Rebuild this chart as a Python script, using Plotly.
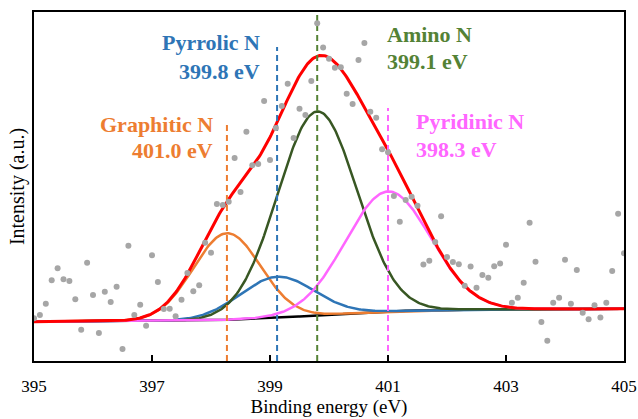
import math
import numpy as np
import plotly.graph_objects as go

# ---- measured spectrum (0.1 eV steps from 395.0 to 405.0) ----
energy_start = 395.0
energy_step = 0.1
intensity = [
    42.7, 46.0, 57.3, 80.7, 92.7, 81.7, 80.0, 61.7, 31.3, 98.3,
    66.0, 28.0, 69.3, 59.0, 74.3, 12.0, 115.3, 46.0, 56.3, 35.3,
    105.7, 79.0, 52.0, 52.3, 44.7, 61.3, 88.0, 69.7, 75.7, 118.3,
    108.3, 157.0, 156.0, 159.3, 203.0, 169.0, 229.3, 195.7, 197.0, 260.0,
    201.0, 233.0, 255.0, 277.3, 223.0, 252.3, 246.0, 280.0, 337.7, 313.5,
    302.3, 293.3, 293.7, 267.3, 257.0, 301.0, 318.0, 249.3, 243.3, 211.7,
    208.7, 165.0, 139.3, 161.0, 164.3, 155.3, 96.5, 100.3, 119.0, 144.7,
    104.0, 99.0, 96.7, 75.3, 94.5, 73.3, 86.0, 83.3, 94.7, 97.5,
    116.3, 58.2, 63.3, 78.2, 138.3, 99.3, 39.0, 20.3, 58.2, 63.3,
    101.2, 57.3, 91.0, 48.2, 41.7, 55.7, 43.5, 58.2, 90.0, 147.3,
    107.7,
]
energy = [round(energy_start + energy_step * i, 1) for i in range(len(intensity))]

# ---- fitted components (Gaussian parameters) ----
peak_names = ["Graphitic N", "Pyrrolic N", "Amino N", "Pyridinic N"]
peak_labels = ["401.0 eV", "399.8 eV", "399.1 eV", "398.3 eV"]
peak_centers = [398.27, 399.12, 399.80, 401.00]
peak_heights = [86.5, 41.0, 204.0, 120.0]
peak_sigmas = [0.57, 0.63, 0.67, 0.72]
peak_colors = ["#ED7D31", "#2E75B6", "#385723", "#FF66FF"]
text_colors = ["#ED7D31", "#2E75B6", "#548235", "#FF66FF"]
dash_colors = ["#ED7D31", "#2E75B6", "#548235", "#FF66FF"]
dash_tops = [236.0, 314.0, 349.0, 253.0]

# Shirley-like background parameters
bg_left = 39.3
bg_slope = 0.3
bg_step = 10.0

E = np.linspace(395, 405, 501)
erf = np.vectorize(math.erf)
areas = [h * s for h, s in zip(peak_heights, peak_sigmas)]
cum = sum(a * 0.5 * (1 + erf((E - c) / (s * math.sqrt(2))))
          for a, c, s in zip(areas, peak_centers, peak_sigmas)) / sum(areas)
background = bg_left + bg_slope * (E - 395) + bg_step * cum
comps = [h * np.exp(-(E - c) ** 2 / (2 * s ** 2))
         for h, c, s in zip(peak_heights, peak_centers, peak_sigmas)]
envelope = background + sum(comps)

fig = go.Figure()
fig.add_trace(go.Scatter(x=E, y=background, mode="lines",
                         line=dict(color="black", width=2.5), showlegend=False))
for comp, col in zip(comps, peak_colors):
    fig.add_trace(go.Scatter(x=E, y=background + comp, mode="lines",
                             line=dict(color=col, width=2.5), showlegend=False))
fig.add_trace(go.Scatter(x=E, y=envelope, mode="lines",
                         line=dict(color="#FF0000", width=3), showlegend=False))
for c, top, col in zip(peak_centers, dash_tops, dash_colors):
    fig.add_trace(go.Scatter(x=[c, c], y=[0, top], mode="lines",
                             line=dict(color=col, width=2, dash="6px,4px"),
                             showlegend=False))
fig.add_trace(go.Scatter(x=energy, y=intensity, mode="markers",
                         marker=dict(color="#A6A6A6", size=6), showlegend=False))

# label positions in pixels (x, y, anchor)
L, R, T, B = 34, 624, 12, 361
def px(x):
    return (x - L) / (R - L)
def py(y):
    return (B - y) / (B - T)

label_pos = [(215, 124, 150.5, "right"), (262, 42, 71, "right"),
             (385, 34, 61, "left"), (414, 121, 149, "left")]
font_fam = "Liberation Serif"
for (x, y1, y2, anc), name, lab, col in zip(label_pos, peak_names, peak_labels, text_colors):
    for y, t in ((y1, name), (y2, lab)):
        fig.add_annotation(x=px(x), y=py(y), xref="paper", yref="paper",
                           text="<b>" + t + "</b>", showarrow=False,
                           xanchor=anc, yanchor="middle",
                           font=dict(family=font_fam, size=22, color=col))

fig.update_layout(
    width=638, height=419,
    margin=dict(l=L, r=638 - R, t=T, b=419 - B),
    paper_bgcolor="white", plot_bgcolor="white",
    font=dict(family=font_fam, color="black"),
    xaxis=dict(range=[395, 405], tickvals=[395, 397, 399, 401, 403, 405],
               ticks="inside", ticklen=6, tickwidth=1.5, tickcolor="black",
               showline=True, linecolor="black", linewidth=1.5, mirror=True,
               showgrid=False, zeroline=False, ticklabelstandoff=9,
               automargin=False,
               tickfont=dict(size=17, family=font_fam),
               title=dict(text="Binding energy (eV)", standoff=2,
                          font=dict(size=19, family=font_fam))),
    yaxis=dict(range=[0, 349], showticklabels=False, ticks="",
               showline=True, linecolor="black", linewidth=1.5, mirror=True,
               showgrid=False, zeroline=False, automargin=False,
               title=dict(text="Intensity (a.u.)", standoff=2,
                          font=dict(size=20, family=font_fam))),
)
fig.write_html("out.html",
               config={"displayModeBar": False},
               post_script="document.body.style.margin='0px';"
                           "document.body.style.padding='0px';")
